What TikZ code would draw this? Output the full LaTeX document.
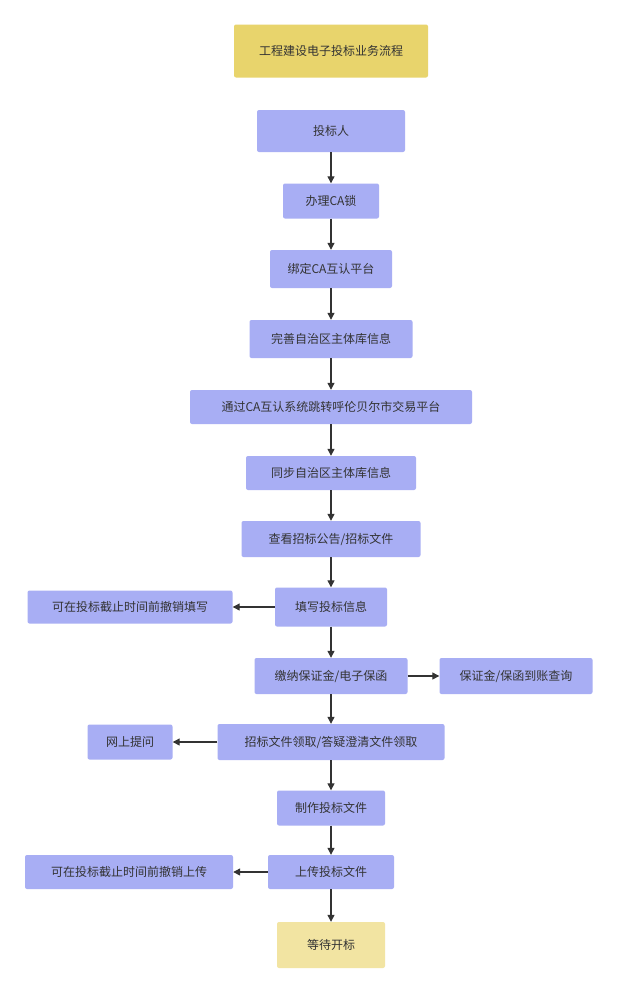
\documentclass[tikz,border=0pt]{standalone}
\usepackage{fontspec}
\setmainfont{Noto Sans CJK SC}
\usetikzlibrary{arrows.meta}
\definecolor{stepblue}{HTML}{A8AEF4}
\definecolor{titleyellow}{HTML}{E8D46C}
\definecolor{endyellow}{HTML}{F2E4A2}
\definecolor{inkgray}{HTML}{333333}
\tikzset{
  stage/.style={rectangle, rounded corners=2pt, fill=stepblue, text=inkgray,
    font=\fontsize{12}{14}\selectfont, inner sep=0pt},
  flow/.style={-{Triangle[length=7pt,width=7pt]}, draw=inkgray, line width=1.2pt}
}
\begin{document}
\begin{tikzpicture}[x=1pt,y=-1pt]
\useasboundingbox[fill=white] (0,0) rectangle (617,993);

% main column
\node[stage, fill=titleyellow, minimum width=194pt, minimum height=53pt] (title) at (331,51) {工程建设电子投标业务流程};
\node[stage, minimum width=148pt, minimum height=42pt] (bidder) at (331,131) {投标人};
\node[stage, minimum width=96pt, minimum height=35pt] (calock) at (331,201) {办理CA锁};
\node[stage, minimum width=122pt, minimum height=38pt] (bind) at (331,269) {绑定CA互认平台};
\node[stage, minimum width=163pt, minimum height=38pt] (perfect) at (331,339) {完善自治区主体库信息};
\node[stage, minimum width=282pt, minimum height=34pt] (jump) at (331,407) {通过CA互认系统跳转呼伦贝尔市交易平台};
\node[stage, minimum width=170pt, minimum height=34pt] (sync) at (331,473) {同步自治区主体库信息};
\node[stage, minimum width=179pt, minimum height=36pt] (notice) at (331,539) {查看招标公告/招标文件};
\node[stage, minimum width=112pt, minimum height=39pt] (fill) at (331,607) {填写投标信息};
\node[stage, minimum width=153pt, minimum height=36pt] (deposit) at (331,676) {缴纳保证金/电子保函};
\node[stage, minimum width=227pt, minimum height=36pt] (fetch) at (331,742) {招标文件领取/答疑澄清文件领取};
\node[stage, minimum width=108pt, minimum height=35pt] (make) at (331,808) {制作投标文件};
\node[stage, minimum width=126pt, minimum height=34pt] (upload) at (331,872) {上传投标文件};
\node[stage, fill=endyellow, minimum width=108pt, minimum height=46pt] (wait) at (331,945) {等待开标};

% side branches
\node[stage, minimum width=205pt, minimum height=33pt] (undofill) at (130,607) {可在投标截止时间前撤销填写};
\node[stage, minimum width=153pt, minimum height=36pt] (query) at (516,676) {保证金/保函到账查询};
\node[stage, minimum width=85pt, minimum height=35pt] (ask) at (130,742) {网上提问};
\node[stage, minimum width=208pt, minimum height=34pt] (undoup) at (129,872) {可在投标截止时间前撤销上传};

% connectors
\draw[flow] (bidder) -- (calock);
\draw[flow] (calock) -- (bind);
\draw[flow] (bind) -- (perfect);
\draw[flow] (perfect) -- (jump);
\draw[flow] (jump) -- (sync);
\draw[flow] (sync) -- (notice);
\draw[flow] (notice) -- (fill);
\draw[flow] (fill) -- (deposit);
\draw[flow] (deposit) -- (fetch);
\draw[flow] (fetch) -- (make);
\draw[flow] (make) -- (upload);
\draw[flow] (upload) -- (wait);
\draw[flow] (fill) -- (undofill);
\draw[flow] (deposit) -- (query);
\draw[flow] (fetch) -- (ask);
\draw[flow] (upload) -- (undoup);
\end{tikzpicture}
\end{document}
